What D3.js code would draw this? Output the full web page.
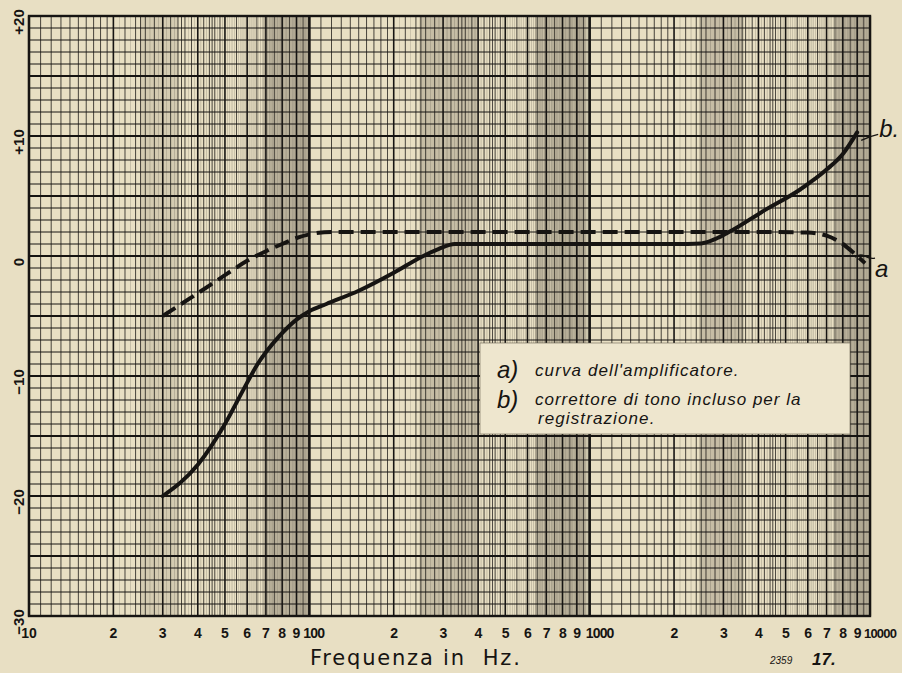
<!DOCTYPE html>
<html><head><meta charset="utf-8">
<script src="https://cdn.jsdelivr.net/npm/d3@7"></script>
<style>body{margin:0;background:#e8dfc3;} svg{display:block}</style>
</head><body><svg id="c" width="902" height="673"></svg>
<script>
// ---- data ----
const freqA = [30, 40, 50, 60, 70, 80, 90, 100, 120, 200, 500, 1000, 2000, 4000, 6000, 7000, 8000, 8800, 9600];
const dbA   = [-5.0, -3.1, -1.6, -0.4, 0.4, 1.0, 1.5, 1.8, 2.0, 2.0, 2.0, 2.0, 2.0, 2.0, 1.95, 1.7, 1.0, 0.2, -0.6];
const freqB = [30, 40, 50, 58, 65, 78, 90, 100, 115, 150, 200, 250, 290, 330, 500, 1000, 2000, 2500, 2800, 3200, 4200, 5600, 7000, 8000, 9000];
const dbB   = [-20.0, -17.4, -14.0, -11.2, -9.1, -6.7, -5.3, -4.6, -4.0, -2.9, -1.4, -0.1, 0.6, 1.0, 1.0, 1.0, 1.0, 1.05, 1.4, 2.1, 3.8, 5.5, 7.2, 8.5, 10.3];
const xTickValues = [10,20,30,40,50,60,70,80,90,100,200,300,400,500,600,700,800,900,1000,2000,3000,4000,5000,6000,7000,8000,9000,10000];
const xTickLabels = ["10","2","3","4","5","6","7","8","9","100","2","3","4","5","6","7","8","9","1000","2","3","4","5","6","7","8","9","10000"];
const yTickValues = [20, 10, 0, -10, -20, -30];
const yTickLabels = ["+20", "+10", "0", "\u221210", "\u221220", "\u221230"];
const legendKeys  = ["a)", "b)"];
const legendTexts = ["curva dell'amplificatore.", "correttore di tono incluso per la", "registrazione."];
const paperBands  = [[24.9, 34.0], [68.4, 98.9], [247, 398], [638, 970], [2455, 3543], [7540, 9800]];

// ---- layout ----
const svg = d3.select("#c");
const L = 29, R = 870, T = 16, B = 616;
const x = d3.scaleLog().domain([10, 10000]).range([L, R]);
const y = d3.scaleLinear().domain([-30, 20]).range([B, T]);
const ink = "#161412";

// paper darker bands
svg.append("g").selectAll("rect").data(paperBands).join("rect")
  .attr("x", d => x(d[0])).attr("y", T).attr("width", d => x(d[1]) - x(d[0])).attr("height", B - T)
  .attr("fill", "#5a5548").attr("opacity", (d, i) => i === 0 ? 0.14 : 0.24);

// grid
const grid = svg.append("g");
const fine = [], minor = [], major = [], decade = [];
[10, 100, 1000].forEach(d => {
  for (let k = 10; k <= 100; k++) {
    const f = d * k / 10;
    if (k % 10 === 0) { (k === 10 || k === 100) ? decade.push(f) : major.push(f); }
    else if (k < 20) minor.push(f);
    else if (k < 50 && k % 2 === 0) minor.push(f);
    else if (k % 5 === 0) minor.push(f);
    else fine.push(f);
  }
});
grid.selectAll("line.f").data(fine).join("line").attr("class","f")
  .attr("x1", d => x(d)).attr("x2", d => x(d)).attr("y1", T).attr("y2", B)
  .attr("stroke", ink).attr("stroke-width", 0.5).attr("opacity", 0.35);
grid.selectAll("line.mi").data(minor).join("line").attr("class","mi")
  .attr("x1", d => x(d)).attr("x2", d => x(d)).attr("y1", T).attr("y2", B)
  .attr("stroke", ink).attr("stroke-width", 0.9).attr("opacity", 0.85);
grid.selectAll("line.ma").data(major).join("line").attr("class","ma")
  .attr("x1", d => x(d)).attr("x2", d => x(d)).attr("y1", T).attr("y2", B)
  .attr("stroke", ink).attr("stroke-width", 1.6);
grid.selectAll("line.de").data(decade).join("line").attr("class","de")
  .attr("x1", d => x(d)).attr("x2", d => x(d)).attr("y1", T).attr("y2", B)
  .attr("stroke", ink).attr("stroke-width", 2.2);
grid.selectAll("line.h").data(d3.range(-30, 21)).join("line").attr("class","h")
  .attr("x1", L).attr("x2", R).attr("y1", d => y(d)).attr("y2", d => y(d))
  .attr("stroke", ink).attr("stroke-width", d => d % 5 === 0 ? 2.0 : 1.0);
svg.append("rect").attr("x", L).attr("y", T).attr("width", R - L).attr("height", B - T)
  .attr("fill", "none").attr("stroke", ink).attr("stroke-width", 2.4);

// axis labels
const bigTick = d => d === 100 || d === 1000 || d === 10000;
svg.append("g").selectAll("text").data(xTickValues).join("text")
  .attr("x", d => d === 100 ? x(d) - 6 : d === 1000 ? x(d) - 4 : d === 10000 ? x(d) - 6 : x(d))
  .attr("y", 638)
  .attr("text-anchor", d => bigTick(d) ? "start" : "middle")
  .attr("font-family", "Liberation Sans, Arial, sans-serif").attr("font-weight", "bold")
  .attr("font-size", d => d === 10000 ? 13 : 14)
  .attr("letter-spacing", d => d >= 100 ? -0.8 : 0)
  .attr("fill", ink)
  .text((d, i) => xTickLabels[i]);
svg.append("g").selectAll("text").data(yTickValues).join("text")
  .attr("transform", d => `translate(24,${y(d) + 6}) rotate(-90)`)
  .attr("text-anchor", "middle")
  .attr("font-family", "Liberation Sans, Arial, sans-serif").attr("font-weight", "bold").attr("font-size", 15)
  .attr("fill", ink)
  .text((d, i) => yTickLabels[i]);
svg.append("text").attr("x", 310).attr("y", 665)
  .attr("font-family", "DejaVu Sans, sans-serif").attr("font-size", 21).attr("letter-spacing", 1.8)
  .attr("fill", ink).attr("xml:space", "preserve").text("Frequenza in  Hz.");
svg.append("text").attr("x", 770).attr("y", 664)
  .attr("font-family", "Liberation Sans, sans-serif").attr("font-style", "italic").attr("font-size", 10)
  .attr("fill", ink).text("2359");
svg.append("text").attr("x", 812).attr("y", 665)
  .attr("font-family", "Liberation Sans, sans-serif").attr("font-style", "italic").attr("font-weight", "bold").attr("font-size", 17)
  .attr("fill", ink).text("17.");

// curves
const line = d3.line().x(d => x(d[0])).y(d => y(d[1])).curve(d3.curveMonotoneX);
svg.append("path").datum(freqA.map((f, i) => [f, dbA[i]]))
  .attr("d", line).attr("fill", "none").attr("stroke", ink).attr("stroke-width", 4)
  .attr("stroke-dasharray", "15,7");
svg.append("path").datum(freqB.map((f, i) => [f, dbB[i]]))
  .attr("d", line).attr("fill", "none").attr("stroke", ink).attr("stroke-width", 4)
  .attr("stroke-linecap", "round");

// curve labels with leader strokes
const bEnd = [x(freqB[freqB.length - 1]), y(dbB[dbB.length - 1])];
svg.append("path").attr("d", `M${bEnd[0] + 4},${bEnd[1] + 8} Q${bEnd[0] + 12},${bEnd[1] + 4} ${bEnd[0] + 21},${bEnd[1] + 2}`)
  .attr("fill", "none").attr("stroke", ink).attr("stroke-width", 1.3);
svg.append("text").attr("x", bEnd[0] + 22).attr("y", bEnd[1] + 5)
  .attr("font-family", "Liberation Sans, sans-serif").attr("font-style", "italic").attr("font-size", 24)
  .attr("fill", ink).text("b.");
const aEnd = [x(freqA[freqA.length - 1]), y(dbA[dbA.length - 1])];
svg.append("path").attr("d", `M${aEnd[0] - 10},${aEnd[1] - 6} q5,-4 10,-1 t10,2`)
  .attr("fill", "none").attr("stroke", ink).attr("stroke-width", 1.3);
svg.append("text").attr("x", aEnd[0] + 10).attr("y", aEnd[1] + 14)
  .attr("font-family", "Liberation Sans, sans-serif").attr("font-style", "italic").attr("font-size", 24)
  .attr("fill", ink).text("a");

// legend box
const lg = svg.append("g");
lg.append("rect").attr("x", 480).attr("y", 343).attr("width", 370).attr("height", 91)
  .attr("fill", "#eee6ce").attr("stroke", "#6b6555").attr("stroke-width", 0.6);
lg.selectAll("text.k").data(legendKeys).join("text").attr("class", "k")
  .attr("x", 497).attr("y", (d, i) => 378 + i * 30)
  .attr("font-family", "Liberation Sans, sans-serif").attr("font-style", "italic").attr("font-size", 24)
  .attr("fill", ink).text(d => d);
lg.selectAll("text.t").data(legendTexts).join("text").attr("class", "t")
  .attr("x", (d, i) => i === 2 ? 538 : 535).attr("y", (d, i) => [376, 405, 424][i])
  .attr("font-family", "Liberation Sans, sans-serif").attr("font-style", "italic").attr("font-size", 17)
  .attr("letter-spacing", (d, i) => i === 1 ? 1.0 : 1.1)
  .attr("fill", ink).text(d => d);
</script></body></html>
